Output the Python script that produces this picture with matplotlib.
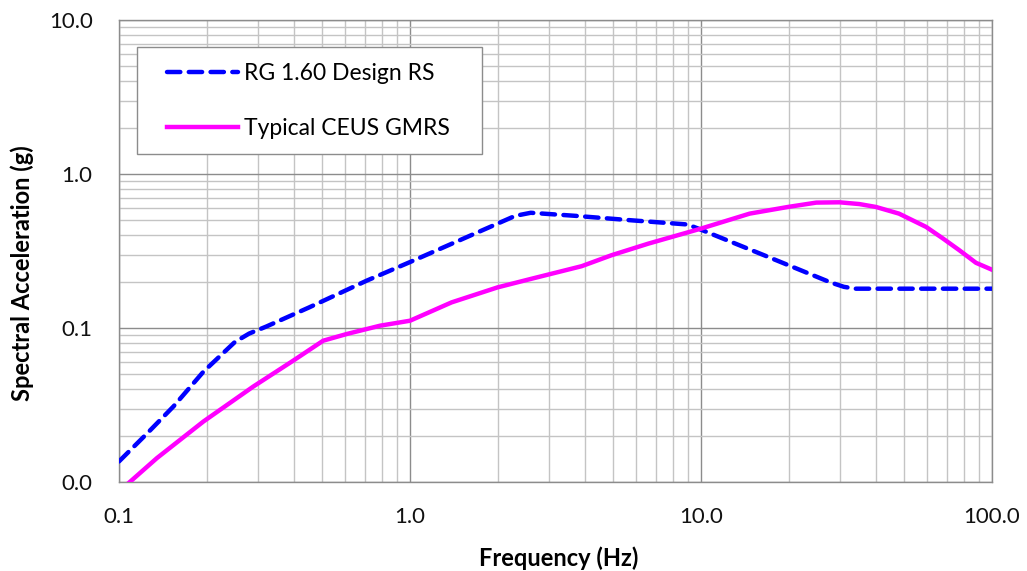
import numpy as np
import matplotlib
matplotlib.use('Agg')
import matplotlib.pyplot as plt
from matplotlib.patches import Rectangle
from matplotlib.ticker import FixedLocator, FuncFormatter, LogLocator, NullFormatter

# RG 1.60 design response spectrum
rg_freq = [0.1, 0.125, 0.154, 0.195, 0.25, 0.28, 0.32, 0.45, 0.71, 1.0, 2.3, 2.6, 3.7, 5.8, 9.0, 10.0, 16.6, 28.0, 31.0, 34.0, 100.0]
rg_sa   = [0.0136, 0.0207, 0.031, 0.052, 0.081, 0.092, 0.102, 0.136, 0.203, 0.268, 0.535, 0.56, 0.535, 0.50, 0.47, 0.435, 0.295, 0.197, 0.185, 0.18, 0.18]

# typical CEUS GMRS
gm_freq = [0.1, 0.1076, 0.135, 0.195, 0.289, 0.397, 0.503, 0.606, 0.789, 1.0, 1.39, 2.0, 2.62, 3.89, 4.93, 6.59, 10.0,
           14.7, 19.9, 24.9, 29.9, 35.0, 39.9, 47.9, 59.4, 68.0, 77.2, 88.1, 100.0]
gm_sa   = [0.0088, 0.0098, 0.0143, 0.0247, 0.0416, 0.0614, 0.0827, 0.0914, 0.1035, 0.1115, 0.1467, 0.1836, 0.209, 0.252,
           0.297, 0.353, 0.442, 0.553, 0.611, 0.652, 0.655, 0.638, 0.611, 0.553, 0.453, 0.38, 0.32, 0.265, 0.239]

labels = ['RG 1.60 Design RS', 'Typical CEUS GMRS']

plt.rcParams['font.family'] = ['Lato', 'DejaVu Sans']

W, H = 1027, 571
fig = plt.figure(figsize=(W/100, H/100), dpi=100)
ax = fig.add_axes([119/W, 1-482/H, (992-119)/W, (482-20)/H])

ax.plot(rg_freq, rg_sa, color='#0000FF', lw=3.2, ls=(0, (3.0, 1.9)), dash_capstyle='round',
        solid_joinstyle='round', label=labels[0], zorder=3)
ax.plot(gm_freq, gm_sa, color='#FF00FF', lw=3.2, solid_joinstyle='round', label=labels[1], zorder=3)

ax.set_xscale('log')
ax.set_yscale('log')
ax.set_xlim(0.1, 100)
ax.set_ylim(0.01, 10)

fmt = FuncFormatter(lambda v, p: '%.1f' % v)
ax.xaxis.set_major_locator(FixedLocator([0.1, 1, 10, 100]))
ax.yaxis.set_major_locator(FixedLocator([0.01, 0.1, 1, 10]))
ax.xaxis.set_major_formatter(fmt)
ax.yaxis.set_major_formatter(fmt)
ax.xaxis.set_minor_locator(LogLocator(base=10, subs=np.arange(2, 10)))
ax.yaxis.set_minor_locator(LogLocator(base=10, subs=np.arange(2, 10)))
ax.xaxis.set_minor_formatter(NullFormatter())
ax.yaxis.set_minor_formatter(NullFormatter())

ax.grid(which='major', color='#8c8c8c', lw=1.0)
ax.grid(which='minor', color='#c4c4c4', lw=1.0)
ax.set_axisbelow(True)
ax.tick_params(which='both', length=0, labelsize=16, colors='#111111')
ax.tick_params(axis='x', pad=18)
ax.tick_params(axis='y', pad=19)
for sp in ax.spines.values():
  sp.set_color('#8c8c8c')
  sp.set_linewidth(1.0)

fig.text(559/W, 1-566/H, 'Frequency (Hz)', ha='center', va='baseline', fontsize=17, fontweight='bold')
fig.text(22/W, 1-273/H, 'Spectral Acceleration (g)', ha='center', va='center', rotation=90,
         fontsize=17, fontweight='bold')

# legend box drawn by hand so its padding can differ horizontally and vertically
ax.add_patch(Rectangle((137/W, 1-154/H), (482-137)/W, (154-47)/H, transform=fig.transFigure,
                       facecolor='white', edgecolor='#8c8c8c', lw=1.0, zorder=4, clip_on=False))
leg = ax.legend(loc='upper left', bbox_to_anchor=(167/W, 1-63/H), bbox_transform=fig.transFigure,
                fontsize=16.5, frameon=False, borderpad=0, labelspacing=1.49,
                handlelength=3.1, handletextpad=0.28, borderaxespad=0)
leg.set_zorder(5)

fig.savefig('out.png', dpi=100)
